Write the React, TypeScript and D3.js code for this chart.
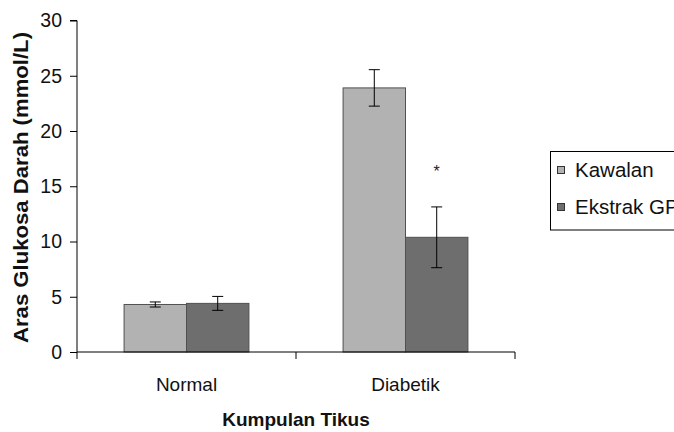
import React, { useEffect, useRef } from "react";
import * as d3 from "d3";

const categories = ["Normal", "Diabetik"];
const seriesNames = ["Kawalan", "Ekstrak GP"];
const kawalanMean = [4.3, 23.9];
const kawalanErr = [0.23, 1.65];
const ekstrakMean = [4.4, 10.38];
const ekstrakErr = [0.63, 2.75];
const yTicks = [0, 5, 10, 15, 20, 25, 30];
const colors = ["#b2b2b2", "#6e6e6e"];

const FONT = "'Liberation Sans', Arial, sans-serif";

export const App: React.FC = () => {
  const ref: any = useRef(null);

  useEffect(() => {
    const width = 674;
    const height = 432;
    const left = 77;
    const right = 515;
    const top = 20.5;
    const bottom = 352;

    const svg = d3.select(ref.current);
    svg.selectAll("*").remove();

    const x0 = d3.scaleBand().domain(categories).range([left, right]).paddingInner(0.43).paddingOuter(0.215);
    const x1 = d3.scaleBand().domain(seriesNames).range([0, x0.bandwidth()]);
    const y = d3.scaleLinear().domain([0, 30]).range([bottom, top]);

    // bars
    const rows = categories.map((c, i) => [
      { cat: c, s: seriesNames[0], v: kawalanMean[i], e: kawalanErr[i], color: colors[0] },
      { cat: c, s: seriesNames[1], v: ekstrakMean[i], e: ekstrakErr[i], color: colors[1] }
    ]).flat();

    svg.append("g")
      .selectAll("rect")
      .data(rows)
      .enter()
      .append("rect")
      .attr("x", (d: any) => (x0(d.cat) as number) + (x1(d.s) as number))
      .attr("y", (d: any) => y(d.v))
      .attr("width", x1.bandwidth())
      .attr("height", (d: any) => y(0) - y(d.v))
      .attr("fill", (d: any) => d.color)
      .attr("stroke", "#505050")
      .attr("stroke-width", 1);

    // error bars
    const eb = svg.append("g").attr("stroke", "#000").attr("stroke-width", 1);
    rows.forEach((d: any) => {
      const cx = (x0(d.cat) as number) + (x1(d.s) as number) + x1.bandwidth() / 2;
      eb.append("line").attr("x1", cx).attr("x2", cx).attr("y1", y(d.v + d.e)).attr("y2", y(d.v - d.e));
      eb.append("line").attr("x1", cx - 5.5).attr("x2", cx + 5.5).attr("y1", y(d.v + d.e)).attr("y2", y(d.v + d.e));
      eb.append("line").attr("x1", cx - 5.5).attr("x2", cx + 5.5).attr("y1", y(d.v - d.e)).attr("y2", y(d.v - d.e));
    });

    // significance mark
    const ax = (x0("Diabetik") as number) + (x1("Ekstrak GP") as number) + x1.bandwidth() / 2;
    svg.append("text")
      .attr("x", ax)
      .attr("y", y(ekstrakMean[1] + ekstrakErr[1]) - 30)
      .attr("text-anchor", "middle")
      .attr("font-family", FONT)
      .attr("font-size", 16)
      .attr("fill", "#222")
      .text("*");

    // y axis
    const yAxis = d3.axisLeft(y).tickValues(yTicks).tickSize(7).tickPadding(8);
    const yg = svg.append("g").attr("transform", `translate(${left},0)`).call(yAxis);
    yg.select(".domain").attr("stroke", "#000").attr("d", `M-7,${top}H0V${bottom}`);
    yg.selectAll("text").attr("font-family", FONT).attr("font-size", 19.5).attr("fill", "#111");

    // x axis
    const xg = svg.append("g").attr("transform", `translate(0,${bottom})`);
    xg.append("line").attr("x1", left).attr("x2", right).attr("stroke", "#000");
    const bounds = [left, ...categories.map(c => (x0(c) as number) + x0.bandwidth() + x0.step() * 0.215)];
    xg.selectAll("line.tk")
      .data(bounds)
      .enter()
      .append("line")
      .attr("class", "tk")
      .attr("x1", (d: any) => d)
      .attr("x2", (d: any) => d)
      .attr("y1", 0)
      .attr("y2", 7)
      .attr("stroke", "#000");
    xg.selectAll("text")
      .data(categories)
      .enter()
      .append("text")
      .attr("x", (d: any) => (x0(d) as number) + x0.bandwidth() / 2)
      .attr("y", 39)
      .attr("text-anchor", "middle")
      .attr("font-family", FONT)
      .attr("font-size", 19)
      .attr("fill", "#111")
      .text((d: any) => d);

    // axis titles
    svg.append("text")
      .attr("x", (left + right) / 2)
      .attr("y", 425.5)
      .attr("text-anchor", "middle")
      .attr("font-family", FONT)
      .attr("font-weight", "bold")
      .attr("font-size", 19)
      .attr("fill", "#111")
      .text("Kumpulan Tikus");

    svg.append("text")
      .attr("transform", `translate(27.5,187.5) rotate(-90)`)
      .attr("text-anchor", "middle")
      .attr("font-family", FONT)
      .attr("font-weight", "bold")
      .attr("font-size", 20)
      .attr("fill", "#111")
      .attr("textLength", 311)
      .attr("lengthAdjust", "spacingAndGlyphs")
      .text("Aras Glukosa Darah (mmol/L)");

    // legend
    const lg = svg.append("g").attr("transform", "translate(550.5,151.5)");
    lg.append("rect")
      .attr("width", 140)
      .attr("height", 78.5)
      .attr("fill", "#fff")
      .attr("stroke", "#000");
    seriesNames.forEach((s, i) => {
      const cy = 18.5 + i * 37;
      lg.append("rect")
        .attr("x", 7)
        .attr("y", cy - 3.5)
        .attr("width", 7)
        .attr("height", 7)
        .attr("fill", colors[i])
        .attr("stroke", "#333");
      lg.append("text")
        .attr("x", 24.5)
        .attr("y", cy)
        .attr("dy", "0.36em")
        .attr("font-family", FONT)
        .attr("font-size", 20.5)
        .attr("fill", "#111")
        .text(s);
    });

    svg.attr("width", width).attr("height", height);
  }, []);

  return (
    <svg
      ref={ref}
      width={674}
      height={432}
      style={{ position: "absolute", left: 0, top: 0, background: "#fff" }}
    />
  );
};

export default App;
